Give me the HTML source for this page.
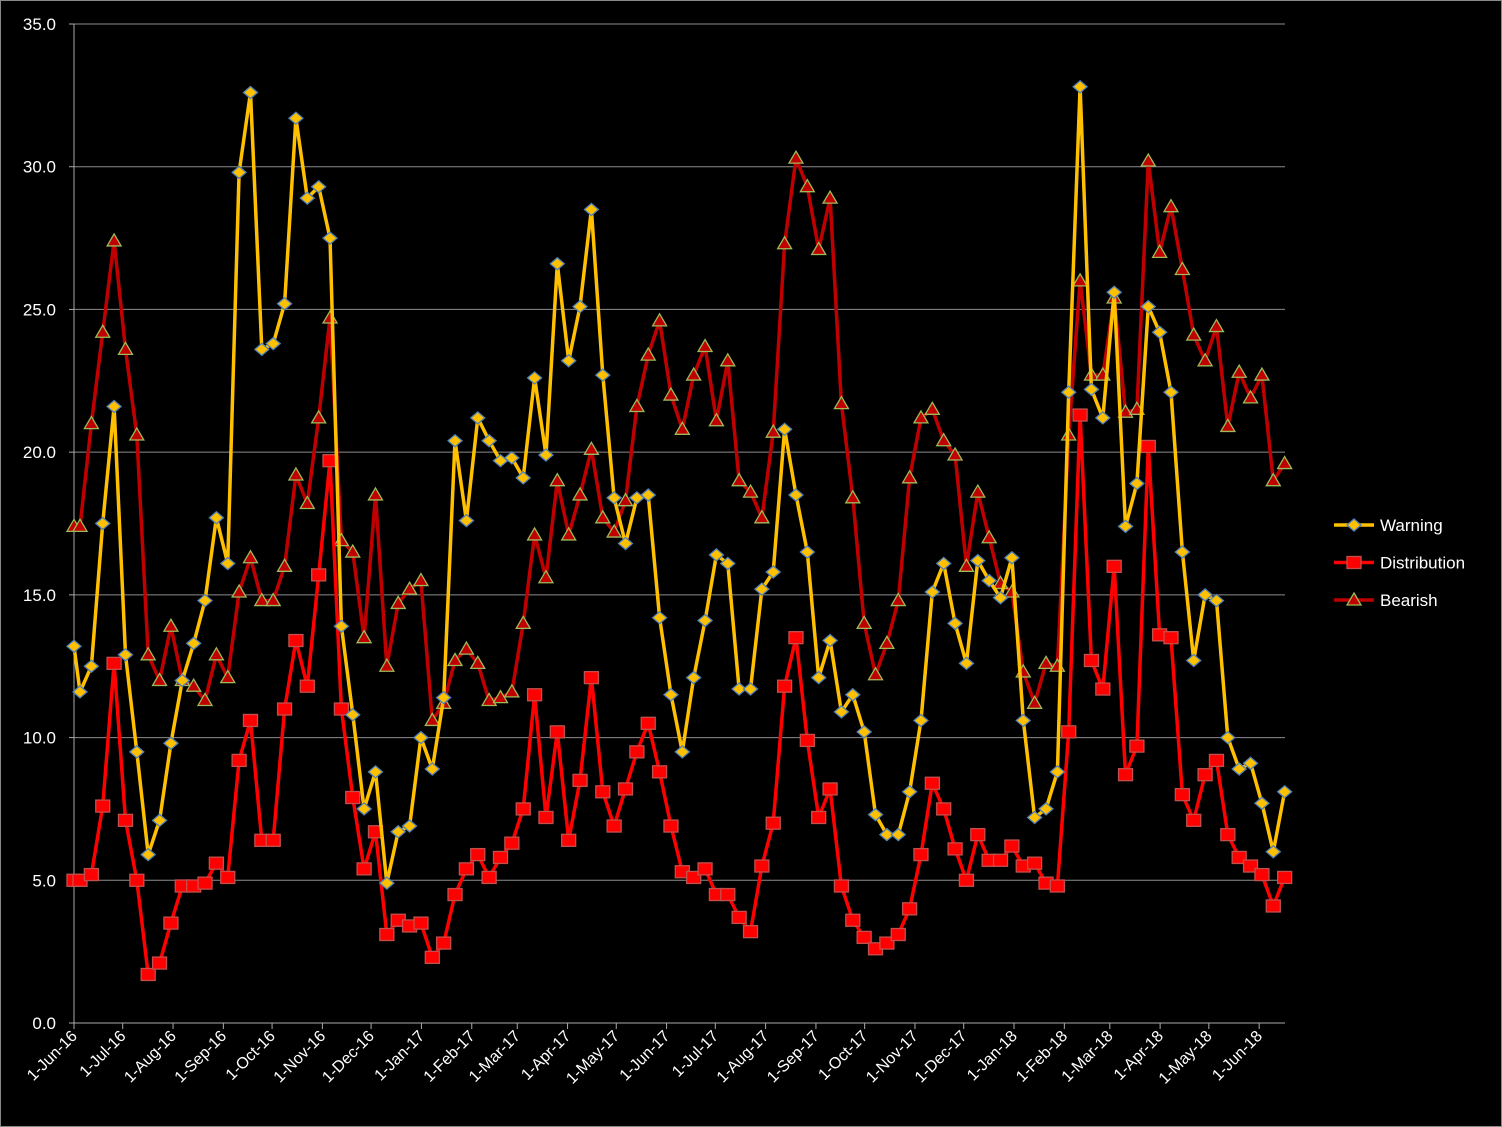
<!DOCTYPE html>
<html><head><meta charset="utf-8"><style>
html,body{margin:0;padding:0;background:#000;}
svg{display:block;font-family:"Liberation Sans",sans-serif;}
</style></head><body>
<svg id="chart" width="1502" height="1127" viewBox="0 0 1502 1127" xmlns="http://www.w3.org/2000/svg">
<rect x="0.5" y="0.5" width="1501" height="1126" fill="#000" stroke="#888"/>
<g id="grid"></g><g id="axes"></g><g id="series"></g><g id="legend"></g>
</svg>
<script>
const warning=[13.2,11.6,12.5,17.5,21.6,12.9,9.5,5.9,7.1,9.8,12.0,13.3,14.8,17.7,16.1,29.8,32.6,23.6,23.8,25.2,31.7,28.9,29.3,27.5,13.9,10.8,7.5,8.8,4.9,6.7,6.9,10.0,8.9,11.4,20.4,17.6,21.2,20.4,19.7,19.8,19.1,22.6,19.9,26.6,23.2,25.1,28.5,22.7,18.4,16.8,18.4,18.5,14.2,11.5,9.5,12.1,14.1,16.4,16.1,11.7,11.7,15.2,15.8,20.8,18.5,16.5,12.1,13.4,10.9,11.5,10.2,7.3,6.6,6.6,8.1,10.6,15.1,16.1,14.0,12.6,16.2,15.5,14.9,16.3,10.6,7.2,7.5,8.8,22.1,32.8,22.2,21.2,25.6,17.4,18.9,25.1,24.2,22.1,16.5,12.7,15.0,14.8,10.0,8.9,9.1,7.7,6.0,8.1];
const distribution=[5.0,5.0,5.2,7.6,12.6,7.1,5.0,1.7,2.1,3.5,4.8,4.8,4.9,5.6,5.1,9.2,10.6,6.4,6.4,11.0,13.4,11.8,15.7,19.7,11.0,7.9,5.4,6.7,3.1,3.6,3.4,3.5,2.3,2.8,4.5,5.4,5.9,5.1,5.8,6.3,7.5,11.5,7.2,10.2,6.4,8.5,12.1,8.1,6.9,8.2,9.5,10.5,8.8,6.9,5.3,5.1,5.4,4.5,4.5,3.7,3.2,5.5,7.0,11.8,13.5,9.9,7.2,8.2,4.8,3.6,3.0,2.6,2.8,3.1,4.0,5.9,8.4,7.5,6.1,5.0,6.6,5.7,5.7,6.2,5.5,5.6,4.9,4.8,10.2,21.3,12.7,11.7,16.0,8.7,9.7,20.2,13.6,13.5,8.0,7.1,8.7,9.2,6.6,5.8,5.5,5.2,4.1,5.1];
const bearish=[17.4,17.4,21.0,24.2,27.4,23.6,20.6,12.9,12.0,13.9,12.0,11.8,11.3,12.9,12.1,15.1,16.3,14.8,14.8,16.0,19.2,18.2,21.2,24.7,16.9,16.5,13.5,18.5,12.5,14.7,15.2,15.5,10.6,11.2,12.7,13.1,12.6,11.3,11.4,11.6,14.0,17.1,15.6,19.0,17.1,18.5,20.1,17.7,17.2,18.3,21.6,23.4,24.6,22.0,20.8,22.7,23.7,21.1,23.2,19.0,18.6,17.7,20.7,27.3,30.3,29.3,27.1,28.9,21.7,18.4,14.0,12.2,13.3,14.8,19.1,21.2,21.5,20.4,19.9,16.0,18.6,17.0,15.4,15.1,12.3,11.2,12.6,12.5,20.6,26.0,22.7,22.7,25.4,21.4,21.5,30.2,27.0,28.6,26.4,24.1,23.2,24.4,20.9,22.8,21.9,22.7,19.0,19.6];
const yTicks=[0,5,10,15,20,25,30,35];
const xTickLabels=["1-Jun-16","1-Jul-16","1-Aug-16","1-Sep-16","1-Oct-16","1-Nov-16","1-Dec-16","1-Jan-17","1-Feb-17","1-Mar-17","1-Apr-17","1-May-17","1-Jun-17","1-Jul-17","1-Aug-17","1-Sep-17","1-Oct-17","1-Nov-17","1-Dec-17","1-Jan-18","1-Feb-18","1-Mar-18","1-Apr-18","1-May-18","1-Jun-18"];

const NS="http://www.w3.org/2000/svg";
const X0=74,X1=1285,Y0=1023,Y1=24,PXDAY=1.6235;
const start=Date.UTC(2016,5,1);
function dayOf(i){return i===0?0:3.7+7*(i-1);}
function xDay(d){return X0+d*PXDAY;}
function xPt(i){return xDay(dayOf(i));}
function y(v){return Y0-(v/35)*(Y0-Y1);}
function mk(tag,attrs,parent){const e=document.createElementNS(NS,tag);for(const k in attrs)e.setAttribute(k,attrs[k]);parent.appendChild(e);return e;}
function parseLbl(s){const m={Jan:0,Feb:1,Mar:2,Apr:3,May:4,Jun:5,Jul:6,Aug:7,Sep:8,Oct:9,Nov:10,Dec:11};const p=s.split('-');return (Date.UTC(2000+ +p[2],m[p[1]],+p[0])-start)/86400000;}

const grid=document.getElementById('grid'),axes=document.getElementById('axes'),ser=document.getElementById('series'),leg=document.getElementById('legend');
yTicks.forEach(t=>{
  if(t>0){const g=mk('line',{x1:X0,x2:X1,y1:y(t),y2:y(t),stroke:'#8c8c8c','stroke-width':1},grid);
  
  }
  const tk=mk('line',{x1:X0-5,x2:X0,y1:y(t),y2:y(t),stroke:'#aaa'},axes);
  
  
  const l=mk('text',{x:56,y:y(t)+6,'text-anchor':'end','font-size':17,fill:'#fff'},axes);
  l.textContent=t.toFixed(1);
  
  
});
const ya=mk('line',{x1:X0,x2:X0,y1:Y1,y2:Y0,stroke:'#aaa'},axes);


const xa=mk('line',{x1:X0,x2:X1,y1:Y0,y2:Y0,stroke:'#aaa'},axes);


xTickLabels.forEach(s=>{
  const x=xDay(parseLbl(s));
  const tk=mk('line',{x1:x,x2:x,y1:Y0,y2:Y0+6,stroke:'#aaa'},axes);
  
  
  const l=mk('text',{x:x+4,y:Y0+14,'text-anchor':'end','font-size':16,fill:'#fff',transform:`rotate(-45 ${x+4} ${Y0+14})`},axes);
  l.textContent=s;
  
  
});

function marker(kind,cx,cy,parent){
  let e;
  if(kind==='diamond')e=mk('polygon',{points:`${cx},${cy-6} ${cx+7},${cy} ${cx},${cy+6} ${cx-7},${cy}`,fill:'#FFC000',stroke:'#4F81BD','stroke-width':1.3},parent);
  else if(kind==='square')e=mk('rect',{x:cx-7,y:cy-6,width:14,height:12,fill:'#FF0000',stroke:'#C0504D','stroke-width':1.3},parent);
  else e=mk('polygon',{points:`${cx},${cy-7} ${cx+7},${cy+5} ${cx-7},${cy+5}`,fill:'#C00000',stroke:'#9BBB59','stroke-width':1.3},parent);
  return e;
}
const seriesDefs=[
  {name:'bearish',data:bearish,color:'#C00000',kind:'triangle'},
  {name:'distribution',data:distribution,color:'#FF0000',kind:'square'},
  {name:'warning',data:warning,color:'#FFC000',kind:'diamond'}
];
seriesDefs.forEach(s=>{
  const g=mk('g',{},ser);
  
  
  const pts=s.data.map((v,i)=>xPt(i).toFixed(1)+','+y(v).toFixed(1)).join(' ');
  const pl=mk('polyline',{points:pts,fill:'none',stroke:s.color,'stroke-width':3.5,'stroke-linejoin':'round'},g);
  
  
  s.data.forEach((v,i)=>{
    const m=marker(s.kind,xPt(i),y(v),g);
    
    
  });
});
const legItems=[['Warning','#FFC000','diamond'],['Distribution','#FF0000','square'],['Bearish','#C00000','triangle']];
legItems.forEach((it,i)=>{
  const cy=525+i*37.5;
  const g=mk('g',{},leg);
  
  
  mk('line',{x1:1334,x2:1374,y1:cy,y2:cy,stroke:it[1],'stroke-width':3.5},g);
  marker(it[2],1354,cy,g);
  const t=mk('text',{x:1380,y:cy+6,'font-size':17,fill:'#fff'},g);
  t.textContent=it[0];
});
</script>
</body></html>
